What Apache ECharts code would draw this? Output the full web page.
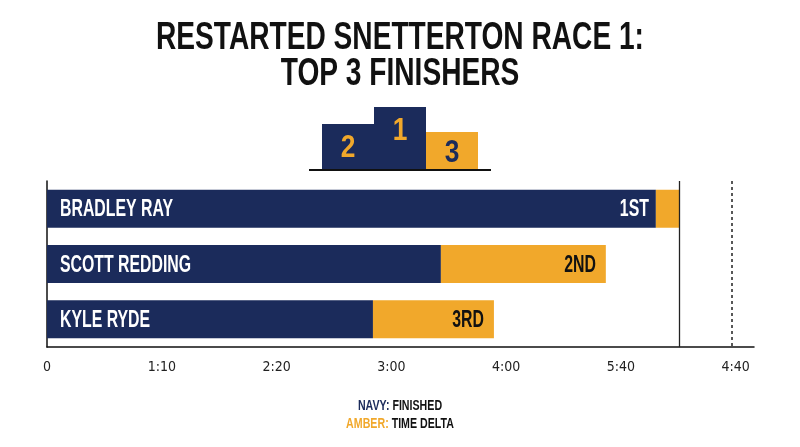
<!DOCTYPE html>
<html>
<head>
<meta charset="utf-8">
<title>Restarted Snetterton Race 1</title>
<script src="https://cdn.jsdelivr.net/npm/echarts@6/dist/echarts.min.js"></script>
<style>
    html, body { margin: 0; padding: 0; background: #fff; }
    #main { width: 800px; height: 447px; }
</style>
</head>
<body>
<div id="main"></div>
<script>
    // riders, top to bottom
    var riders = ['BRADLEY RAY', 'SCOTT REDDING', 'KYLE RYDE'];
    var ranks = ['1ST', '2ND', '3RD'];
    // navy part (finished) and amber part (time delta), in axis tick units
    var finished = [5.305, 3.432, 2.84];
    var timeDelta = [0.209, 1.437, 1.054];
    // tick labels exactly as printed under the axis
    var tickLabels = ['0', '1:10', '2:20', '3:00', '4:00', '5:40', '4:40'];
    var axisMax = 6.16;
    var dashedMark = 5.967;

    var NAVY = '#1b2b5b';
    var AMBER = '#f1a82b';
    var BOLD = "bold 24px 'Liberation Sans', Arial, sans-serif";
    var SQUEEZE = 0.66; // fake a condensed face, none is installed

    var winnerTotal = finished[0] + timeDelta[0];

    // names and places, drawn on top of the bars with a narrowed font
    function renderLabels(params, api) {
        var i = params.dataIndex;
        var start = api.coord([0, i]);
        var navyEnd = api.coord([finished[i], i]);
        var totalEnd = api.coord([finished[i] + timeDelta[i], i]);
        var onNavy = timeDelta[i] < 0.5;
        var rankX = onNavy ? navyEnd[0] - 7 : totalEnd[0] - 10;
        return {
            type: 'group',
            children: [
                {
                    type: 'text', x: start[0] + 13, y: start[1] + 1, scaleX: SQUEEZE,
                    style: { text: riders[i], fill: '#fff', font: BOLD, align: 'left', verticalAlign: 'middle' }
                },
                {
                    type: 'text', x: rankX, y: start[1] + 1, scaleX: SQUEEZE,
                    style: { text: ranks[i], fill: onNavy ? '#fff' : '#111', font: BOLD, align: 'right', verticalAlign: 'middle' }
                }
            ]
        };
    }

    var myChart = echarts.init(document.getElementById('main'));
    myChart.setOption({
        animation: false,
        grid: {
            left: 47,
            right: 46,
            top: 181,
            bottom: 100
        },
        xAxis: {
            type: 'value',
            min: 0,
            max: axisMax,
            interval: 1,
            axisLine: { show: true, lineStyle: { color: '#111', width: 1.5 } },
            axisTick: { show: false },
            splitLine: { show: false },
            axisLabel: {
                margin: 13,
                fontFamily: "'DejaVu Sans Condensed', sans-serif",
                fontSize: 14,
                color: '#222',
                formatter: function (v) {
                    return Number.isInteger(v) && tickLabels[v] !== undefined ? tickLabels[v] : '';
                }
            }
        },
        yAxis: {
            type: 'category',
            inverse: true,
            data: riders,
            axisLine: { show: true, lineStyle: { color: '#111', width: 1.5 } },
            axisTick: { show: false },
            axisLabel: { show: false }
        },
        series: [
            {
                name: 'Finished',
                type: 'bar',
                stack: 'total',
                barWidth: 38,
                itemStyle: { color: NAVY },
                data: finished,
                markLine: {
                    silent: true,
                    symbol: 'none',
                    label: { show: false },
                    data: [
                        { xAxis: winnerTotal, lineStyle: { color: '#222', width: 1.3, type: 'solid' } },
                        { xAxis: dashedMark, lineStyle: { color: '#222', width: 1.5, type: [3, 3] } }
                    ]
                }
            },
            {
                name: 'Time delta',
                type: 'bar',
                stack: 'total',
                barWidth: 38,
                itemStyle: { color: AMBER },
                data: timeDelta
            },
            {
                name: 'Labels',
                type: 'custom',
                z: 10,
                silent: true,
                renderItem: renderLabels,
                encode: { x: 0, y: 1 },
                data: riders.map(function (r, i) { return [0, i]; })
            }
        ],
        graphic: [
            // title
            {
                type: 'text', x: 400, y: 21, scaleX: 0.74,
                style: {
                    text: 'RESTARTED SNETTERTON RACE 1:\nTOP 3 FINISHERS',
                    fill: '#111',
                    font: "bold 38px 'Liberation Sans', Arial, sans-serif",
                    lineHeight: 36,
                    align: 'center',
                    verticalAlign: 'top'
                }
            },
            // podium
            { type: 'rect', shape: { x: 322, y: 124, width: 52, height: 46 }, style: { fill: NAVY } },
            { type: 'rect', shape: { x: 374, y: 107, width: 52, height: 63 }, style: { fill: NAVY } },
            { type: 'rect', shape: { x: 426, y: 132, width: 52, height: 38 }, style: { fill: AMBER } },
            { type: 'line', shape: { x1: 309, y1: 170, x2: 491, y2: 170 }, style: { stroke: '#111', lineWidth: 2 } },
            { type: 'text', x: 348, y: 148, scaleX: 0.85, style: { text: '2', fill: AMBER, font: "bold 31px 'Liberation Sans', sans-serif", align: 'center', verticalAlign: 'middle' } },
            { type: 'text', x: 400, y: 131, scaleX: 0.85, style: { text: '1', fill: AMBER, font: "bold 31px 'Liberation Sans', sans-serif", align: 'center', verticalAlign: 'middle' } },
            { type: 'text', x: 452, y: 153, scaleX: 0.85, style: { text: '3', fill: NAVY, font: "bold 31px 'Liberation Sans', sans-serif", align: 'center', verticalAlign: 'middle' } },
            // colour key
            {
                type: 'text', x: 400, y: 415, scaleX: 0.76,
                style: {
                    text: '{navy|NAVY:} {dark|FINISHED}\n{amber|AMBER:} {dark|TIME DELTA}',
                    align: 'center',
                    verticalAlign: 'middle',
                    font: "bold 14px 'Liberation Sans', sans-serif",
                    lineHeight: 18,
                    rich: {
                        navy: { fill: NAVY, font: "bold 14px 'Liberation Sans', sans-serif", lineHeight: 18 },
                        amber: { fill: AMBER, font: "bold 14px 'Liberation Sans', sans-serif", lineHeight: 18 },
                        dark: { fill: '#111', font: "bold 14px 'Liberation Sans', sans-serif", lineHeight: 18 }
                    }
                }
            }
        ]
    });
</script>
</body>
</html>
